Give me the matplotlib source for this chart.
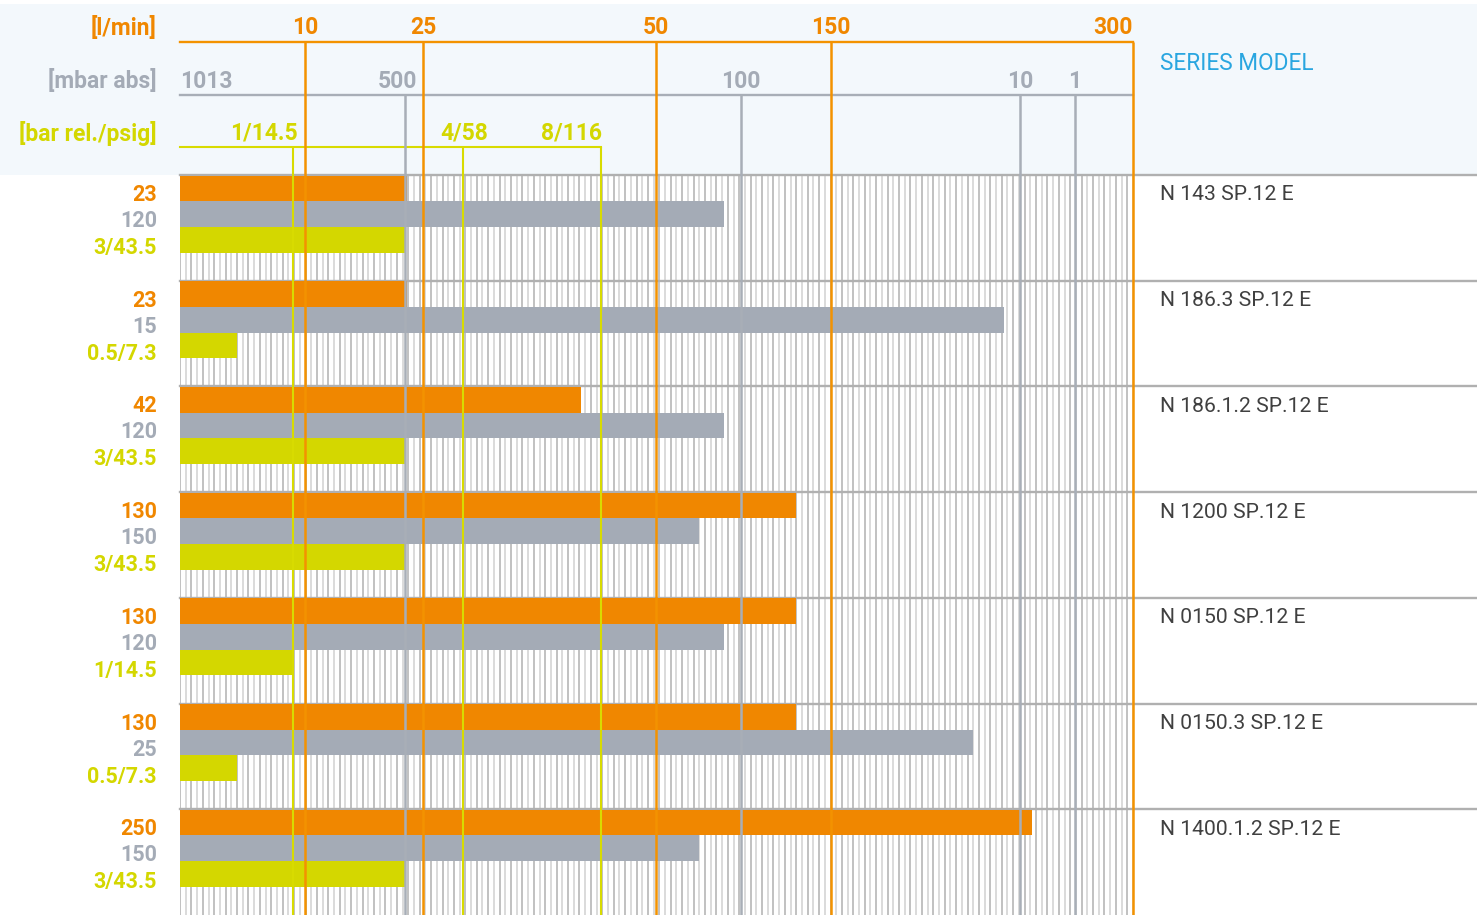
import numpy as np
import matplotlib.pyplot as plt
from matplotlib.patches import Rectangle

plt.rcParams['font.family'] = ['Roboto', 'DejaVu Sans']

# data
models = ['N 143 SP.12 E', 'N 186.3 SP.12 E', 'N 186.1.2 SP.12 E', 'N 1200 SP.12 E',
          'N 0150 SP.12 E', 'N 0150.3 SP.12 E', 'N 1400.1.2 SP.12 E']
flow = [23, 23, 42, 130, 130, 130, 250]               # l/min
vacuum = [120, 15, 120, 150, 120, 25, 150]            # mbar abs
pressure_bar = [3, 0.5, 3, 3, 1, 0.5, 3]              # bar rel.
pressure_psig = ['43.5', '7.3', '43.5', '43.5', '14.5', '7.3', '43.5']

flow_ticks = [10, 25, 50, 150, 300]
vac_ticks = [1013, 500, 100, 10, 1]
pres_ticks = [1, 4, 8]
pres_tick_labels = ['1/14.5', '4/58', '8/116']

# scale layout (axis fraction of each tick, the chart uses broken linear scales)
flow_pos = [0.0, 0.1312, 0.2550, 0.4995, 0.6831, 1.0]     # for 0 + flow_ticks
vac_pos = [0.0, 0.2361, 0.5887, 0.8814, 0.9391, 1.0]      # for vac_ticks + 0
pres_pos = [0.0, 0.1186, 0.2970, 0.4418]                  # for 0 + pres_ticks

ORANGE = '#f08700'
GRAY = '#a4abb6'
YELLOW = '#d4d700'
BLUE = '#2aa6e0'


def fx(v):
    return np.interp(v, [0] + flow_ticks, flow_pos)


def vx(v):
    return np.interp(v, ([1013] + vac_ticks[1:] + [0])[::-1], vac_pos[::-1])


def px_(v):
    return np.interp(v, [0] + pres_ticks, pres_pos)


W, H = 1477, 915
X0, X1 = 180, 1133
TOP = 175
ROW = (H - TOP) / 7.0


def ypx(p):
    return (p - TOP) / ROW


def xpx(p):
    return (p - X0) / (X1 - X0)


fig = plt.figure(figsize=(W / 100, H / 100), dpi=100)
ax = fig.add_axes([X0 / W, 0, (X1 - X0) / W, 1])
ax.set_xlim(0, 1)
ax.set_ylim(7, ypx(0))
ax.axis('off')

# header background
ax.add_patch(Rectangle((xpx(0), ypx(4)), xpx(W) - xpx(0), ypx(TOP) - ypx(4),
                       facecolor='#f3f8fc', edgecolor='none', clip_on=False, zorder=0))

# fine vertical hatch lines
hx = np.linspace(0, 1, 168)
hcol = ['#bcbcbc' if i % 2 == 0 else '#d8d8d8' for i in range(len(hx))]
ax.vlines(hx, 0, 7, colors=hcol, linewidth=1.3, zorder=1)

# row separators
for r in range(7):
    ax.plot([0, xpx(W)], [r, r], color='#b0b0b0', lw=1.7, clip_on=False, zorder=2)

rows = np.arange(7)
bh = 25.7 / ROW
off = 0.5 / ROW
ax.barh(rows + off, fx(flow), height=bh, left=0, align='edge', color=ORANGE, zorder=3)
ax.barh(rows + off + bh, vx(vacuum), height=bh, left=0, align='edge', color=GRAY, zorder=3)
ax.barh(rows + off + 2 * bh, px_(pressure_bar), height=bh, left=0, align='edge',
        color=YELLOW, zorder=3)

# axis lines in header + reference verticals
yo, yg, yy = ypx(42), ypx(95), ypx(147)
ax.plot([0, 1], [yo, yo], color='#f39200', lw=1.7, clip_on=False, zorder=5)
ax.plot([0, 1], [yg, yg], color='#a8aeb7', lw=1.7, clip_on=False, zorder=5)
ax.plot([0, pres_pos[-1]], [yy, yy], color='#d8db00', lw=1.5, clip_on=False, zorder=5)
ax.vlines(vx(vac_ticks[1:]), yg, 7, colors='#a8aeb7', linewidth=1.8, zorder=5)
ax.vlines(px_(pres_ticks), yy, 7, colors='#d8db00', linewidth=1.5, zorder=6)
ax.vlines(fx(flow_ticks), yo, 7, colors='#f39200', linewidth=1.8, zorder=7,
          clip_on=False)

# header tick labels
hfs = 16.5
dy = 2
for t in flow_ticks:
    ha = 'right' if t == flow_ticks[-1] else 'center'
    ax.text(fx(t), ypx(26 + dy), str(t), color=ORANGE, fontsize=hfs, fontweight='bold',
            ha=ha, va='center', zorder=8)
ax.text(0, ypx(79 + dy), str(vac_ticks[0]), color=GRAY, fontsize=hfs, fontweight='bold',
        ha='left', va='center')
for t in vac_ticks[1:]:
    shift = -0.008 if t == 500 else 0
    ax.text(vx(t) + shift, ypx(79 + dy), str(t), color=GRAY, fontsize=hfs,
            fontweight='bold', ha='center', va='center')
for t, lab, ha, shift in zip(pres_ticks, pres_tick_labels, ['right', 'center', 'right'],
                             [0.005, 0.001, 0.001]):
    ax.text(px_(t) + shift, ypx(131 + dy), lab, color=YELLOW, fontsize=hfs,
            fontweight='bold', ha=ha, va='center')

lx = xpx(157)
ax.text(lx, ypx(26 + dy), '[l/min]', color=ORANGE, fontsize=hfs, fontweight='bold',
        ha='right', va='center', clip_on=False)
ax.text(lx, ypx(79 + dy), '[mbar abs]', color=GRAY, fontsize=hfs, fontweight='bold',
        ha='right', va='center', clip_on=False)
ax.text(lx, ypx(131 + dy), '[bar rel./psig]', color=YELLOW, fontsize=hfs,
        fontweight='bold', ha='right', va='center', clip_on=False)
ax.text(xpx(1160), ypx(61 + dy), 'SERIES MODEL', color=BLUE, fontsize=16.3,
        ha='left', va='center', clip_on=False)

# row labels
for r in rows:
    ax.text(lx, r + (18 + dy) / ROW, str(flow[r]), color=ORANGE, fontsize=15.5,
            fontweight='bold', ha='right', va='center')
    ax.text(lx, r + (44 + dy) / ROW, str(vacuum[r]), color=GRAY, fontsize=15.5,
            fontweight='bold', ha='right', va='center')
    ax.text(lx, r + (71 + dy) / ROW, f'{pressure_bar[r]:g}/{pressure_psig[r]}',
            color=YELLOW, fontsize=15.5, fontweight='bold', ha='right', va='center')
    ax.text(xpx(1160), r + (18 + dy) / ROW, models[r], color='#404040', fontsize=15.2,
            ha='left', va='center', clip_on=False)

fig.savefig('out.png', dpi=100)
